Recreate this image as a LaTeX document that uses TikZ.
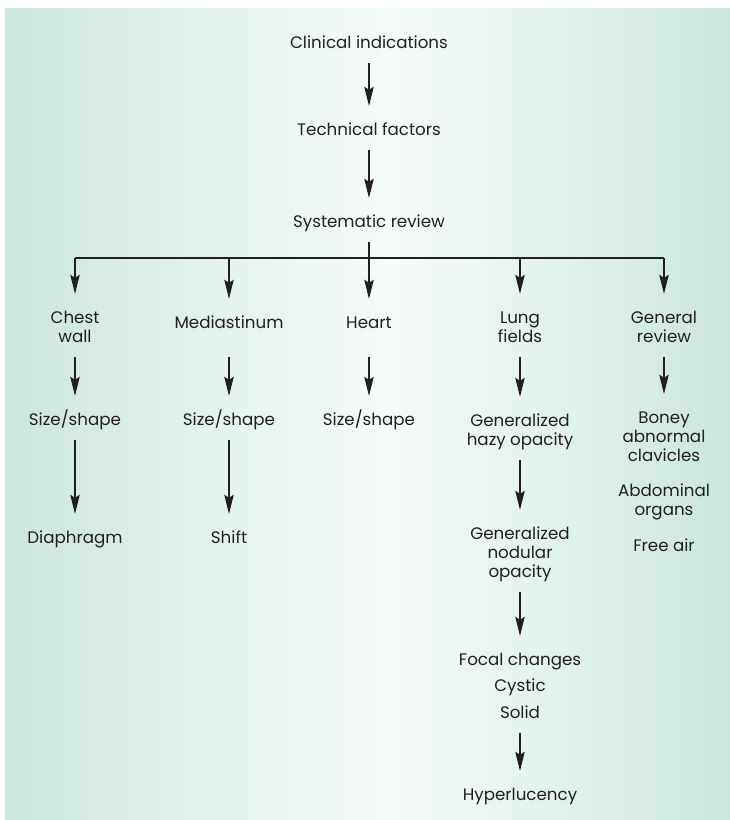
\documentclass[tikz,border=0pt]{standalone}
\usepackage{fontspec}
\setmainfont{Poppins}
\usepackage{tikz}
\usetikzlibrary{positioning, arrows.meta}
\tikzstyle{chartFrame} = [x = 1pt, y = -1pt]
\definecolor{panelTeal}{RGB}{204,230,223}
\definecolor{panelLight}{RGB}{246,251,250}
\definecolor{inkColor}{RGB}{35,31,32}
\tikzstyle{stepText} = [font=\fontsize{16.7}{19}\selectfont, color=inkColor, inner sep=0pt, anchor=base, align=center, text height=14pt, text depth=0pt]
\tikzstyle{midRow} = [stepText, text depth=14pt]
\tikzstyle{twoLines} = [stepText, text height=33pt]
\tikzstyle{threeLines} = [stepText, text height=52pt]
\tikzstyle{focalLines} = [stepText, font=\fontsize{16.7}{26.5}\selectfont, text height=67pt]
\tikzstyle{flowArrow} = [color=inkColor, line width=1.1pt, -{Stealth[length=19pt, width=9.5pt, inset=3pt]}, shorten <=15pt, shorten >=15pt]
\tikzstyle{branchLine} = [color=inkColor, line width=1.1pt]
\newcommand{\flowStep}[4]{\node [#1] (#2) at (#3) {#4};}

\begin{document}
\begin{tikzpicture}[chartFrame]
  \useasboundingbox (0,0) rectangle (730,820);
  \shade [left color=panelTeal, right color=panelLight] (5,8) rectangle (390,820);
  \shade [left color=panelLight, right color=panelTeal] (390,8) rectangle (730,820);

  % main column
  \flowStep{stepText}{clinical}{369,48}{Clinical indications}
  \flowStep{stepText}{technical}{369,135}{Technical factors}
  \flowStep{stepText}{systematic}{369,227}{Systematic review}

  % first row (last baseline)
  \flowStep{twoLines}{chestWall}{75,342}{Chest\\wall}
  \flowStep{midRow}{mediastinum}{229,328}{Mediastinum}
  \flowStep{midRow}{heart}{369,328}{Heart}
  \flowStep{twoLines}{lungFields}{520,342}{Lung\\fields}
  \flowStep{twoLines}{generalReview}{664,342}{General\\review}

  % second row
  \flowStep{stepText}{chestSize}{75,425}{Size/shape}
  \flowStep{stepText}{mediaSize}{229,425}{Size/shape}
  \flowStep{stepText}{heartSize}{369,425}{Size/shape}
  \flowStep{twoLines}{hazyOpacity}{520,445}{Generalized\\hazy opacity}
  \flowStep{threeLines}{boney}{664,461}{Boney\\abnormal\\clavicles}

  % lower steps
  \flowStep{stepText}{diaphragm}{75,543}{Diaphragm}
  \flowStep{stepText}{shift}{229,543}{Shift}
  \flowStep{threeLines}{nodularOpacity}{520,577}{Generalized\\nodular\\opacity}
  \flowStep{twoLines}{abdominal}{664,515}{Abdominal\\organs}
  \flowStep{stepText}{freeAir}{664,551}{Free air}
  \flowStep{focalLines}{focalChanges}{520,718}{Focal changes\\Cystic\\Solid}
  \flowStep{stepText}{hyperlucency}{520,800}{Hyperlucency}

  \draw [flowArrow] (clinical) -- (technical);
  \draw [flowArrow] (technical) -- (systematic);
  \draw [flowArrow] (systematic) -- (heart);

  \coordinate (branchPoint) at (369,258);
  \draw [branchLine] (chestWall |- branchPoint) -- (generalReview |- branchPoint);
  \foreach \target in {chestWall, mediastinum, lungFields, generalReview} {
    \draw [flowArrow, shorten <=0pt] (\target |- branchPoint) -- (\target);
  }

  \draw [flowArrow] (chestWall) -- (chestSize);
  \draw [flowArrow] (chestSize) -- (diaphragm);
  \draw [flowArrow] (mediastinum) -- (mediaSize);
  \draw [flowArrow] (mediaSize) -- (shift);
  \draw [flowArrow] (heart) -- (heartSize);
  \draw [flowArrow] (lungFields) -- (hazyOpacity);
  \draw [flowArrow] (hazyOpacity) -- (nodularOpacity);
  \draw [flowArrow] (nodularOpacity) -- (focalChanges);
  \draw [flowArrow] (focalChanges) -- (hyperlucency);
  \draw [flowArrow] (generalReview) -- (boney);
\end{tikzpicture}
\end{document}
